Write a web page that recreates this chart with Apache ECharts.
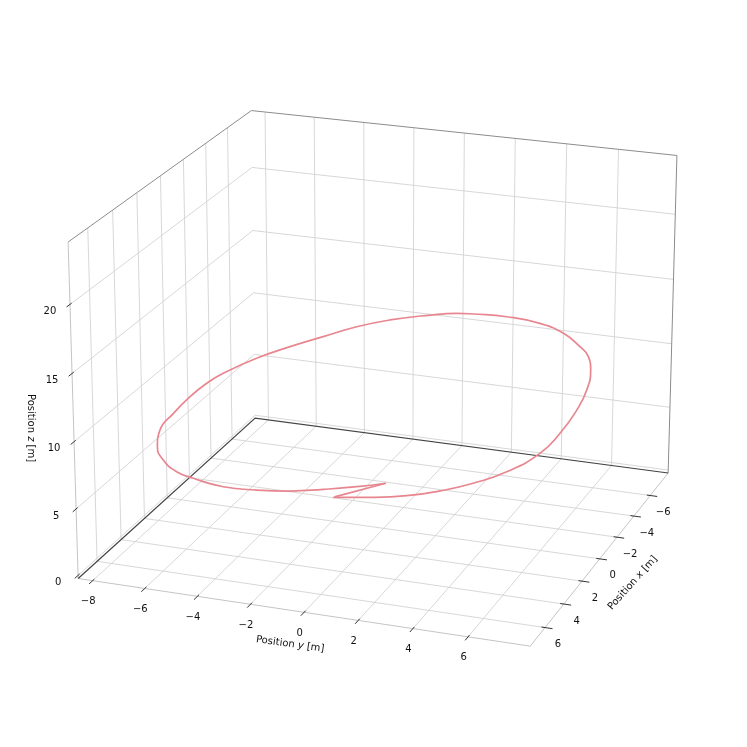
<!DOCTYPE html>
<html>
<head>
<meta charset="utf-8">
<script src="https://cdn.jsdelivr.net/npm/echarts@6/dist/echarts.min.js"></script>
<style>
  html, body { margin: 0; background: #fff; }
  #main { width: 747px; height: 747px; }
</style>
</head>
<body>
<div id="main"></div>
<script>
// trajectory samples [m]
const posX = [
  7.20, 7.31, 7.29, 7.03, 6.55, 5.77, 4.46, 2.95, 1.14, -0.47,
  -2.15, -3.31, -4.22, -5.50, -6.52, -7.30, -7.73, -7.89, -7.87, -7.62,
  -7.16, -6.40, -5.64, -4.73, -3.52, -2.70, -1.58, -0.20, 1.19, 2.58,
  3.70, 4.70, 5.28, 6.04, 6.41, 6.59, 6.56, 6.46, 6.28, 7.17
]
const posY = [
  0.96, 2.47, 3.67, 4.77, 5.78, 6.70, 7.43, 7.64, 7.64, 7.47,
  7.06, 6.59, 5.97, 4.91, 3.65, 2.08, 0.60, -0.12, -1.18, -2.70,
  -3.87, -4.93, -5.97, -6.95, -7.79, -8.10, -8.28, -8.33, -8.24, -7.71,
  -6.97, -6.00, -5.10, -3.62, -2.20, -0.89, 0.34, 1.53, 2.52, 1.00
]
const posZ = [
  8.23, 8.74, 9.17, 9.61, 10.06, 10.52, 11.02, 11.37, 11.70, 11.94,
  12.10, 12.15, 12.10, 11.96, 11.70, 11.29, 10.85, 10.62, 10.24, 9.66,
  9.16, 8.65, 8.14, 7.63, 7.11, 6.85, 6.58, 6.30, 6.08, 6.01,
  6.07, 6.23, 6.44, 6.82, 7.26, 7.69, 8.13, 8.57, 8.95, 8.25
]
const CUSP = 38 // the path turns sharply here and runs back to its start

const xTicks = [-6, -4, -2, 0, 2, 4, 6]
const yTicks = [-8, -6, -4, -2, 0, 2, 4, 6]
const zTicks = [0, 5, 10, 15, 20]

// 3D box and camera (matplotlib like perspective view)
const ELEV = 20.35, AZIM = 20.09, DIST = 9.51
const XBOX = [-8.25, 7.54]
const YBOX = [-8.56, 8.23]
const ZBOX = [-0.235, 24.46]
const VIEW = { ox: 382.9, oy: 363.2, sx: 3883.2, sy: 3865.5 }

const ASPECT = [4, 4, 3].map(v => v * 1.8294640721620434 / Math.sqrt(41))

function makeCamera() {
  const el = ELEV * Math.PI / 180, az = AZIM * Math.PI / 180
  const w = [Math.cos(el) * Math.cos(az), Math.cos(el) * Math.sin(az), Math.sin(el)]
  const eye = ASPECT.map((a, i) => a / 2 + DIST * w[i])
  const n = Math.hypot(w[0], w[1])
  const u = [-w[1] / n, w[0] / n, 0]
  const v = [w[1] * u[2] - w[2] * u[1], w[2] * u[0] - w[0] * u[2], w[0] * u[1] - w[1] * u[0]]
  return { eye, u, v, w }
}
const cam = makeCamera()
const boxes = [XBOX, YBOX, ZBOX]

// data point -> projected plane coordinates (what the cartesian axes show)
function proj(x, y, z) {
  const p = [x, y, z].map((q, i) => (q - boxes[i][0]) / (boxes[i][1] - boxes[i][0]) * ASPECT[i] - cam.eye[i])
  const dot = a => a[0] * p[0] + a[1] * p[1] + a[2] * p[2]
  const d = -dot(cam.w)
  return [dot(cam.u) / d, dot(cam.v) / d]
}

const GRID_COLOR = '#d3d3d3'
const EDGE_COLOR = '#8c8c8c'
const TEXT_FONT = '10px "DejaVu Sans"'

function renderFrame(params, api) {
  const c = (x, y, z) => api.coord(proj(x, y, z))
  const [x0, x1] = XBOX, [y0, y1] = YBOX, [z0, z1] = ZBOX
  const line = (pts, color, width) => ({
    type: 'polyline', shape: { points: pts }, silent: true,
    style: { stroke: color, lineWidth: width, fill: null }
  })
  const kids = []
  yTicks.forEach(t => kids.push(line([c(x1, t, z0), c(x0, t, z0), c(x0, t, z1)], GRID_COLOR, 0.9)))
  xTicks.forEach(t => kids.push(line([c(t, y1, z0), c(t, y0, z0), c(t, y0, z1)], GRID_COLOR, 0.9)))
  zTicks.forEach(t => kids.push(line([c(x1, y0, t), c(x0, y0, t), c(x0, y1, t)], GRID_COLOR, 0.9)))
  // box edges
  kids.push(line([c(x1, y0, z1), c(x0, y0, z1), c(x0, y1, z1), c(x0, y1, z0)], EDGE_COLOR, 1))
  kids.push(line([c(x1, y0, z1), c(x1, y0, z0), c(x1, y1, z0), c(x0, y1, z0)], '#c4c4c4', 1))
  kids.push(line([c(x1, y0, z0), c(x0, y0, z0), c(x0, y1, z0)], '#444', 1.2))
  // ticks
  const tk = '#333'
  yTicks.forEach(t => kids.push(line([c(x1 - 0.14, t, z0), c(x1 + 0.29, t, z0)], tk, 1)))
  xTicks.forEach(t => kids.push(line([c(t, y1 - 0.13, z0), c(t, y1 + 0.27, z0)], tk, 1)))
  zTicks.forEach(t => kids.push(line([c(x1 - 0.13, y0, t), c(x1 + 0.27, y0, t)], tk, 1)))
  return { type: 'group', children: kids }
}

function fmt(v) {
  return v < 0 ? '\u2212' + Math.abs(v) : String(v)
}

function renderLabels(params, api) {
  const c = (x, y, z) => api.coord(proj(x, y, z))
  const [x0, x1] = XBOX, [y0, y1] = YBOX, [z0] = ZBOX
  const label = (p, dx, dy, text, rot, rich) => ({
    type: 'text', x: p[0] + dx, y: p[1] + dy, rotation: rot || 0, silent: true,
    style: { text, font: TEXT_FONT, fill: '#111', align: 'center', verticalAlign: 'middle', rich: rich }
  })
  const kids = []
  yTicks.forEach(t => kids.push(label(c(x1, t, z0), -4.5, 21, fmt(t))))
  xTicks.forEach(t => kids.push(label(c(t, y1, z0), 13, 17, fmt(t))))
  zTicks.forEach(t => kids.push(label(c(x1, y0, t), -20, 7, fmt(t))))
  const it = { i: { fontStyle: 'italic', fontFamily: 'DejaVu Sans', fontSize: 10, fill: '#111' } }
  kids.push(label(c(x1, 0, z0), -14, 32, 'Position {i|y} [m]', -0.14, it))
  kids.push(label(c(0, y1, z0), 33, 24, 'Position {i|x} [m]', 0.84, it))
  kids.push(label(c(x1, y0, 11), -43, 0, 'Position {i|z} [m]', -Math.PI / 2, it))
  return { type: 'group', children: kids }
}

const path = posX.map((x, i) => proj(x, posY[i], posZ[i]))
const PATH_STYLE = { color: '#e8868f', width: 1.7 }

const chart = echarts.init(document.getElementById('main'))
chart.setOption({
  animation: false,
  grid: { left: 0, right: 0, top: 0, bottom: 0 },
  xAxis: { type: 'value', show: false, min: -VIEW.ox / VIEW.sx, max: (747 - VIEW.ox) / VIEW.sx },
  yAxis: { type: 'value', show: false, min: (VIEW.oy - 747) / VIEW.sy, max: VIEW.oy / VIEW.sy },
  series: [
    { type: 'custom', renderItem: renderFrame, data: [[0, 0]], z: 1, silent: true },
    {
      type: 'line', data: path.slice(0, CUSP + 1), smooth: 0.5, showSymbol: false, z: 3, silent: true,
      lineStyle: PATH_STYLE
    },
    {
      type: 'line', data: path.slice(CUSP), showSymbol: false, z: 3, silent: true,
      lineStyle: PATH_STYLE
    },
    { type: 'custom', renderItem: renderLabels, data: [[0, 0]], z: 4, silent: true }
  ]
})
</script>
</body>
</html>
